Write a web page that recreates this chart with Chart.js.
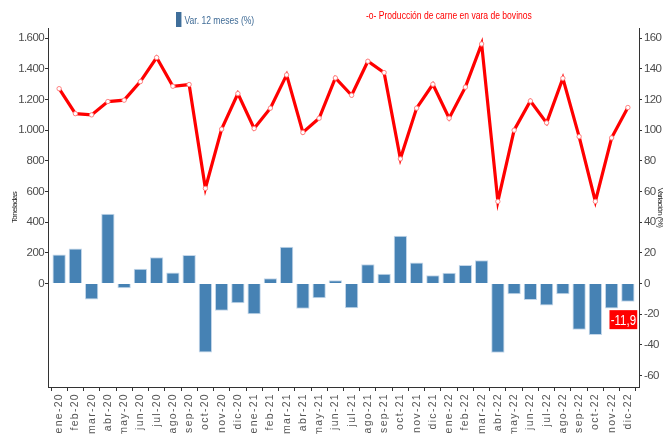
<!DOCTYPE html>
<html>
<head>
<meta charset="utf-8">
<script src="https://cdn.jsdelivr.net/npm/chart.js@4"></script>
<style>
  body { margin: 0; background: #fff; }
  #wrap { position: relative; width: 665px; height: 434px; }
  .leyenda { position: absolute; font-family: "Liberation Sans", Arial, sans-serif; font-size: 11px; white-space: nowrap; transform: scaleX(0.777); transform-origin: left center; }
  #leyBarras { left: 176px; top: 12px; color: #3f6b96; }
  #leyBarras span { display: inline-block; width: 7px; height: 15px; background: #3f6e9a; vertical-align: -3px; margin-right: 4px; }
  #leyLinea { left: 366px; top: 9px; color: #ff0000; }
</style>
</head>
<body>
<div id="wrap">
  <canvas id="grafico"></canvas>
  <div class="leyenda" id="leyBarras"><span></span>Var. 12 meses (%)</div>
  <div class="leyenda" id="leyLinea">-o- Producción de carne en vara de bovinos</div>
</div>
<script>
const meses = [
  "ene-20", "feb-20", "mar-20", "abr-20", "may-20", "jun-20", "jul-20", "ago-20", "sep-20", "oct-20", "nov-20", "dic-20",
  "ene-21", "feb-21", "mar-21", "abr-21", "may-21", "jun-21", "jul-21", "ago-21", "sep-21", "oct-21", "nov-21", "dic-21",
  "ene-22", "feb-22", "mar-22", "abr-22", "may-22", "jun-22", "jul-22", "ago-22", "sep-22", "oct-22", "nov-22", "dic-22",
];

// toneladas
const produccion = [
  1271, 1108, 1100, 1187, 1196, 1317, 1474, 1287, 1298, 620, 1007, 1239,
  1011, 1144, 1361, 985, 1078, 1341, 1228, 1450, 1376, 813, 1144, 1300,
  1078, 1281, 1563, 535, 1000, 1191, 1048, 1339, 958, 535, 950, 1148,
];

// variación 12 meses (%)
const variacion = [
  18.8, 22.8, -10.5, 45.5, -3.1, 9.6, 17.1, 7.2, 18.6, -45.1, -17.9, -12.9,
  -20.1, 3.3, 23.9, -16.6, -9.6, 2.0, -16.2, 12.5, 6.3, 31.1, 13.6, 5.3,
  7.0, 12.0, 15.1, -45.3, -7.0, -10.9, -14.4, -7.0, -30.2, -33.7, -16.4, -11.9,
];

const ticksToneladas = [0, 200, 400, 600, 800, 1000, 1200, 1400, 1600];
const etiquetaFinal = "-11,9";

const fuente = "'Liberation Sans', Arial, sans-serif";
const grisTexto = "#4d4d4d";

const miles = (v) => String(v).replace(/\B(?=(\d{3})+(?!\d))/g, ".");

// los ejes y van apretados, las etiquetas del eje x espaciadas
const espaciado = {
  id: "espaciado",
  beforeDraw(chart) {
    chart.ctx.letterSpacing = "-0.6px";
  },
  afterDatasetsDraw(chart) {
    const { ctx, scales } = chart;
    // recuadro rojo con el último valor
    const i = variacion.length - 1;
    const cx = scales.x.getPixelForValue(i) - 4.5;
    const cy = scales.y1.getPixelForValue(variacion[i]) + 18;
    ctx.save();
    ctx.letterSpacing = "0px";
    ctx.translate(cx, cy);
    ctx.scale(0.82, 1);
    ctx.font = "14px " + fuente;
    const w = ctx.measureText(etiquetaFinal).width + 3;
    ctx.fillStyle = "#ff0000";
    ctx.fillRect(-w / 2, -9.5, w, 19);
    ctx.fillStyle = "#ffffff";
    ctx.textAlign = "center";
    ctx.textBaseline = "middle";
    ctx.fillText(etiquetaFinal, 0, 1);
    ctx.restore();
    ctx.letterSpacing = "1.3px";
  },
  afterDraw(chart) {
    chart.ctx.letterSpacing = "0px";
  },
};

new Chart(document.getElementById("grafico"), {
  type: "bar",
  data: {
    datasets: [
      {
        type: "line",
        label: "Producción de carne en vara de bovinos",
        data: produccion.map((v, i) => ({ x: i, y: v })),
        borderColor: "#ff0000",
        borderWidth: 3.2,
        pointRadius: 2.2,
        pointBackgroundColor: "#ffffff",
        pointBorderColor: "#ff8080",
        pointBorderWidth: 1,
        tension: 0,
        yAxisID: "y",
        order: 0,
      },
      {
        label: "Var. 12 meses (%)",
        data: variacion.map((v, i) => ({ x: i, y: v })),
        backgroundColor: "#4682b4",
        borderColor: "#c4d7ea",
        borderWidth: 1,
        categoryPercentage: 0.82,
        barPercentage: 1,
        yAxisID: "y1",
        order: 1,
      },
    ],
  },
  options: {
    responsive: true,
    maintainAspectRatio: false,
    animation: false,
    layout: { padding: { top: 28, left: 0, right: 0, bottom: 0 } },
    plugins: {
      legend: { display: false },
      tooltip: { enabled: false },
    },
    scales: {
      x: {
        type: "linear",
        offset: false,
        min: -0.685,
        max: 35.685,
        afterBuildTicks: (scale) => {
          scale.ticks = meses.map((m, i) => ({ value: i }));
        },
        afterFit: (scale) => {
          scale.height = 47;
        },
        ticks: {
          z: 1,
          autoSkip: false,
          minRotation: 90,
          maxRotation: 90,
          padding: 2,
          color: "#555",
          font: { family: fuente, size: 10.5 },
          callback: (v) => meses[v],
        },
        grid: {
          drawOnChartArea: false,
          color: "#333",
          tickLength: 4,
        },
        border: { color: "#333", width: 1 },
      },
      y: {
        position: "left",
        min: -676,
        max: 1667,
        afterBuildTicks: (scale) => {
          scale.ticks = ticksToneladas.map((v) => ({ value: v }));
        },
        afterFit: (scale) => {
          scale.width = 48;
        },
        ticks: {
          padding: 1,
          color: grisTexto,
          font: { family: fuente, size: 11.5 },
          callback: (v) => miles(v),
        },
        grid: {
          drawOnChartArea: false,
          color: "#333",
          tickLength: 3,
        },
        border: { color: "#333", width: 1 },
        title: {
          display: true,
          text: "Toneladas",
          color: "#222",
          font: { family: fuente, size: 8 },
          padding: { top: 10, bottom: 0 },
        },
      },
      y1: {
        position: "right",
        min: -67.6,
        max: 166.7,
        ticks: {
          stepSize: 20,
          includeBounds: false,
          padding: 2,
          color: grisTexto,
          font: { family: fuente, size: 11.5 },
        },
        afterFit: (scale) => {
          scale.width = 26;
        },
        grid: {
          drawOnChartArea: false,
          color: "#333",
          tickLength: 3,
        },
        border: { color: "#333", width: 1 },
        title: {
          display: true,
          text: "Variación (%)",
          color: "#222",
          font: { family: fuente, size: 8 },
          padding: { top: 0, bottom: 0 },
        },
      },
    },
  },
  plugins: [espaciado],
});
</script>
</body>
</html>
